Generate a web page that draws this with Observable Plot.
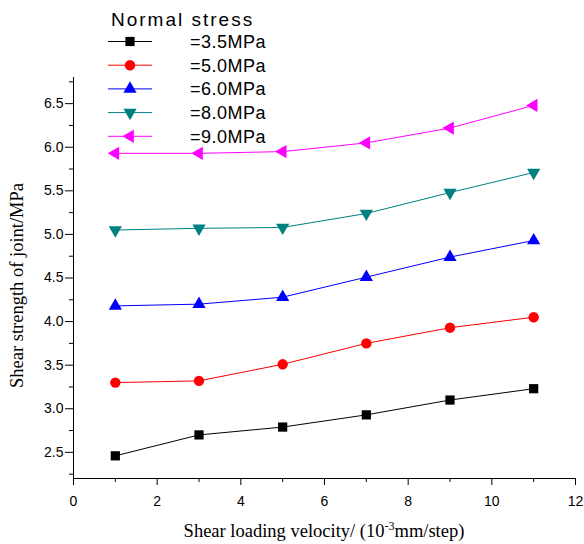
<!DOCTYPE html>
<html>
<head>
<meta charset="utf-8">
<script src="https://cdn.jsdelivr.net/npm/d3@7"></script>
<script src="https://cdn.jsdelivr.net/npm/@observablehq/plot@0.6"></script>
<style>
  html, body { margin: 0; padding: 0; background: #fff; }
  #wrap { position: relative; width: 584px; height: 544px; }
  #wrap svg { position: absolute; left: 0; top: 0; }
</style>
</head>
<body>
<div id="wrap"></div>
<script>
// ---- data ----
const velocity = [1, 3, 5, 7, 9, 11];
const stress35 = [2.46, 2.70, 2.79, 2.93, 3.10, 3.23];
const stress50 = [3.30, 3.32, 3.51, 3.75, 3.93, 4.05];
const stress60 = [4.18, 4.20, 4.28, 4.51, 4.74, 4.93];
const stress80 = [5.05, 5.07, 5.08, 5.24, 5.48, 5.71];
const stress90 = [5.93, 5.93, 5.95, 6.05, 6.22, 6.48];
const seriesNames = ["=3.5MPa", "=5.0MPa", "=6.0MPa", "=8.0MPa", "=9.0MPa"];
const legendTitle = "Normal stress";
const xTicks = [0, 2, 4, 6, 8, 10, 12];
const xMinorTicks = [1, 3, 5, 7, 9, 11];
const yTicks = [2.5, 3.0, 3.5, 4.0, 4.5, 5.0, 5.5, 6.0, 6.5];
const yMinorTicks = [2.25, 2.75, 3.25, 3.75, 4.25, 4.75, 5.25, 5.75, 6.25, 6.75];
const xLabel = "Shear loading velocity/ (10";
const xLabelSup = "-3";
const xLabelEnd = "mm/step)";
const yLabel = "Shear strength of joint/MPa";

const seriesValues = [stress35, stress50, stress60, stress80, stress90];
const colors = ["#000000", "#ff0000", "#0000ff", "#008080", "#ff00ff"];
const symbols = ["square", "circle", "triangle", "triangle", "triangle"];
const rotations = [0, 0, 0, 180, -90];
const radii = [5.2, 5.2, 4.9, 4.9, 4.9];

const rows = [];
seriesValues.forEach((vals, i) => vals.forEach((s, j) => rows.push({v: velocity[j], s, k: i})));

const marks = [
  Plot.ruleY([2.2], {stroke: "#000", strokeWidth: 1}),
  Plot.ruleX([0], {stroke: "#000", strokeWidth: 1}),
  Plot.axisX({ticks: xTicks, tickSize: 7, tickPadding: 11, tickFormat: d => String(d), fontSize: 14, label: null}),
  Plot.axisX({ticks: xMinorTicks, tickSize: 4, tickFormat: () => "", label: null}),
  Plot.axisY({ticks: yTicks, tickSize: 8, tickPadding: 2, tickFormat: d => d.toFixed(1), fontSize: 14, label: null}),
  Plot.axisY({ticks: yMinorTicks, tickSize: 4, tickFormat: () => "", label: null}),
  Plot.text([yLabel], {frameAnchor: "left", textAnchor: "middle", rotate: -90, dx: -56, dy: 7.5, fontFamily: "Liberation Serif", fontSize: 18.5, fill: "#000"})
];
seriesValues.forEach((vals, i) => {
  const data = rows.filter(d => d.k === i);
  marks.push(Plot.line(data, {x: "v", y: "s", stroke: colors[i], strokeWidth: 1}));
  marks.push(Plot.dot(data, {x: "v", y: "s", symbol: symbols[i], r: radii[i], fill: colors[i], stroke: "none", rotate: rotations[i]}));
});

const chart = Plot.plot({
  width: 584,
  height: 544,
  marginLeft: 73,
  marginRight: 9,
  marginTop: 77,
  marginBottom: 66,
  style: {fontFamily: "Liberation Sans", fontSize: "14px", color: "#000", background: "#fff"},
  x: {domain: [0, 12]},
  y: {domain: [2.2, 6.8]},
  marks
});
const wrap = document.getElementById("wrap");
wrap.appendChild(chart);

// ---- overlay: legend + x-axis title ----
const ov = d3.select(wrap).append("svg")
  .attr("width", 584).attr("height", 544)
  .style("pointer-events", "none")
  .attr("font-family", "Liberation Sans");

ov.append("text").attr("x", 111).attr("y", 25.5)
  .attr("font-size", 19).attr("letter-spacing", "2px").attr("fill", "#000")
  .text(legendTitle);

const d3sym = {square: d3.symbolSquare, circle: d3.symbolCircle, triangle: d3.symbolTriangle};
seriesNames.forEach((name, i) => {
  const y = 41.5 + i * 23.7;
  ov.append("line").attr("x1", 108).attr("x2", 152).attr("y1", y).attr("y2", y)
    .attr("stroke", colors[i]).attr("stroke-width", 1);
  ov.append("path")
    .attr("d", d3.symbol().type(d3sym[symbols[i]]).size(Math.PI * radii[i] * radii[i])())
    .attr("transform", `translate(130,${y}) rotate(${rotations[i]})`)
    .attr("fill", colors[i]);
  ov.append("text").attr("x", 190).attr("y", y + 6.3)
    .attr("font-size", 18).attr("letter-spacing", "0.5px").attr("fill", "#000")
    .text(name);
});

const cap = ov.append("text").attr("x", 324).attr("y", 537)
  .attr("text-anchor", "middle").attr("font-family", "Liberation Serif")
  .attr("font-size", 18.5).attr("fill", "#000");
cap.append("tspan").text(xLabel);
cap.append("tspan").attr("font-size", 12).attr("dy", -7).text(xLabelSup);
cap.append("tspan").attr("dy", 7).text(xLabelEnd);
</script>
</body>
</html>
